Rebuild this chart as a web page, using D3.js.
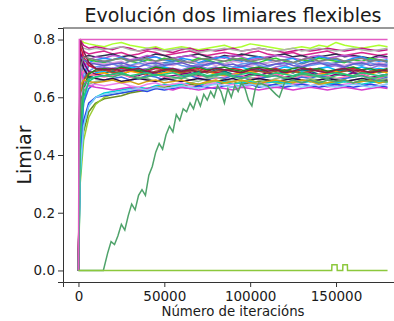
<!DOCTYPE html>
<html>
<head>
<meta charset="utf-8">
<script src="https://cdn.jsdelivr.net/npm/d3@7"></script>
<style>
  html, body { margin: 0; padding: 0; background: #fff; overflow: hidden; }
  svg { display: block; }
  text { font-family: "DejaVu Sans", sans-serif; fill: #1a1a1a; }
</style>
</head>
<body>
<svg id="chart" width="394" height="321"></svg>
<script>
// ---------- DATA ----------
const chartTitle = "Evolución dos limiares flexibles";
const xLabel = "Número de iteracións";
const yLabel = "Limiar";
const xTicks = [0, 50000, 100000, 150000];
const yTicks = [0.0, 0.2, 0.4, 0.6, 0.8];

// common iteration grid for the regular thresholds
const iterations = [0, 1000, 3000, 6000, 10000,
  15000, 20000, 25000, 30000, 35000, 40000, 45000,
  50000, 55000, 60000, 65000, 70000, 75000, 80000,
  85000, 90000, 95000, 100000, 105000, 110000, 115000,
  120000, 125000, 130000, 135000, 140000, 145000, 150000,
  155000, 160000, 165000, 170000, 175000, 180000];

const t01 = [0,.80,.79,.785,.78, .775,.785,.79,.78,.775,.77,.775, .765,.77,.775,.77,.765,.77,.775, .78,.77,.775,.785,.78,.775,.77, .765,.77,.775,.77,.78,.775,.79, .78,.775,.77,.775,.78,.775];
const t02 = [0,.80,.78,.77,.775, .77,.765,.775,.77,.76,.765,.77, .76,.755,.765,.77,.76,.765,.76, .765,.77,.76,.765,.77,.765,.76, .755,.76,.765,.76,.765,.77,.765, .76,.765,.77,.765,.76,.765];
const t03 = [0,.78,.77,.765,.77, .765,.77,.775,.765,.76,.77,.765, .76,.765,.77,.765,.755,.76,.765, .77,.765,.76,.765,.77,.765,.76, .765,.77,.76,.765,.77,.765,.76, .765,.77,.765,.76,.765,.77];
const t04 = [0,.72,.76,.75,.755, .76,.75,.755,.745,.75,.76,.755, .745,.75,.755,.76,.75,.745,.75, .755,.75,.745,.755,.76,.75,.745, .75,.755,.745,.75,.755,.76,.75, .745,.75,.755,.75,.745,.75];
const t05 = [0,.70,.74,.745,.74, .745,.75,.74,.745,.735,.74,.75, .745,.735,.74,.745,.75,.74,.735, .745,.74,.75,.745,.74,.735,.745, .75,.74,.745,.735,.74,.745,.75, .74,.745,.74,.735,.745,.74];
const t06 = [0,.60,.70,.73,.74, .735,.745,.74,.73,.735,.745,.74, .73,.735,.74,.745,.735,.73,.74, .735,.745,.74,.73,.735,.74,.745, .74,.735,.73,.74,.745,.735,.74, .745,.74,.735,.73,.74,.735];
const t07 = [0,.55,.68,.72,.73, .735,.73,.74,.725,.73,.735,.74, .73,.725,.735,.73,.72,.73,.735, .74,.73,.725,.735,.74,.73,.725, .73,.735,.72,.73,.74,.735,.73, .725,.735,.74,.73,.725,.73];
const t08 = [0,.65,.72,.73,.725, .72,.73,.735,.725,.72,.73,.725, .735,.73,.72,.725,.735,.73,.72, .725,.73,.735,.725,.72,.73,.735, .725,.72,.73,.725,.735,.73,.725, .72,.73,.725,.735,.73,.725];
const t09 = [0,.50,.66,.71,.72, .725,.72,.715,.725,.73,.72,.715, .72,.725,.73,.72,.715,.725,.72, .715,.725,.73,.72,.715,.72,.725, .73,.72,.715,.725,.72,.715,.72, .725,.72,.715,.725,.73,.72];
const t10 = [0,.62,.70,.715,.72, .715,.72,.725,.71,.715,.72,.725, .715,.71,.72,.725,.715,.72,.71, .715,.725,.72,.71,.715,.72,.725, .715,.72,.71,.715,.725,.72,.715, .71,.72,.725,.715,.72,.715];
const t11 = [0,.45,.62,.69,.705, .71,.715,.705,.71,.72,.71,.705, .715,.72,.71,.705,.715,.71,.72, .71,.705,.715,.72,.71,.705,.715, .71,.72,.705,.71,.715,.72,.71, .705,.715,.71,.72,.71,.715];
const t12 = [0,.35,.48,.55,.58, .595,.60,.605,.615,.62,.625,.63, .635,.64,.635,.645,.64,.65,.645, .65,.655,.645,.65,.655,.66,.65, .655,.645,.65,.66,.655,.65,.655, .66,.65,.655,.66,.65,.655];
const t13 = [0,.68,.72,.71,.70, .705,.70,.71,.705,.695,.70,.71, .705,.70,.695,.705,.71,.70,.705, .695,.70,.71,.705,.70,.695,.705, .71,.70,.705,.695,.70,.705,.71, .70,.695,.705,.70,.71,.705];
const t14 = [0,.40,.58,.66,.685, .69,.70,.695,.705,.70,.69,.70, .705,.695,.69,.70,.705,.695,.70, .69,.70,.705,.695,.70,.69,.695, .705,.70,.69,.695,.70,.705,.695, .69,.70,.705,.695,.70,.695];
const t15 = [0,.78,.74,.71,.70, .695,.69,.70,.695,.685,.69,.70, .695,.69,.685,.695,.70,.69,.685, .69,.70,.695,.685,.69,.695,.70, .69,.685,.695,.70,.69,.685,.69, .695,.70,.69,.685,.695,.69];
const t16 = [0,.50,.64,.67,.68, .685,.69,.68,.69,.695,.685,.68, .69,.695,.685,.68,.69,.685,.695, .69,.68,.685,.69,.695,.685,.68, .69,.685,.695,.69,.68,.685,.69, .695,.685,.68,.69,.685,.69];
const t17 = [0,.60,.66,.675,.68, .685,.675,.68,.69,.685,.675,.68, .685,.69,.68,.675,.685,.69,.68, .675,.68,.685,.69,.68,.675,.685, .68,.69,.685,.675,.68,.685,.69, .68,.675,.685,.68,.69,.685];
const t18 = [0,.76,.72,.69,.68, .675,.68,.685,.67,.675,.685,.68, .67,.675,.68,.685,.675,.67,.68, .685,.675,.67,.68,.675,.685,.68, .67,.675,.68,.685,.675,.67,.68, .675,.685,.68,.67,.675,.68];
const t19 = [0,.66,.69,.68,.675, .67,.675,.68,.67,.665,.675,.68, .67,.665,.675,.68,.67,.675,.665, .67,.68,.675,.665,.67,.675,.68, .67,.665,.675,.67,.68,.675,.665, .67,.675,.68,.67,.665,.675];
const t20 = [0,.42,.58,.63,.65, .66,.665,.67,.66,.665,.675,.67, .66,.665,.67,.675,.665,.66,.67, .665,.675,.67,.66,.665,.67,.675, .665,.66,.67,.665,.675,.67,.66, .665,.67,.675,.665,.66,.67];
const t21 = [0,.55,.62,.645,.655, .66,.665,.655,.66,.67,.665,.655, .66,.665,.67,.66,.655,.665,.67, .66,.655,.665,.67,.66,.655,.665, .67,.66,.655,.665,.66,.67,.665, .655,.66,.665,.67,.66,.665];
const t22 = [0,.74,.70,.67,.665, .66,.665,.655,.66,.665,.66,.655, .665,.66,.655,.66,.665,.66,.655, .66,.665,.655,.66,.665,.66,.655, .66,.665,.66,.655,.66,.665,.66, .655,.66,.665,.66,.655,.66];
const t23 = [0,.30,.45,.53,.575, .60,.61,.615,.62,.625,.63,.635, .64,.645,.64,.65,.645,.65,.655, .65,.645,.655,.66,.65,.655,.65, .645,.655,.65,.66,.655,.65,.645, .655,.65,.66,.655,.65,.655];
const t24 = [0,.32,.50,.57,.60, .615,.62,.625,.63,.635,.63,.64, .645,.64,.645,.65,.645,.64,.65, .655,.645,.65,.655,.645,.65,.655, .65,.645,.65,.655,.65,.645,.65, .655,.65,.645,.65,.655,.65];
const t25 = [0,.58,.66,.685,.69, .695,.685,.69,.695,.69,.68,.69, .695,.69,.685,.69,.695,.685,.69, .695,.69,.685,.695,.69,.685,.69, .695,.69,.685,.69,.695,.69,.685, .69,.695,.685,.69,.695,.69];
const t26 = [0,.48,.63,.68,.695, .70,.695,.705,.70,.69,.695,.705, .70,.695,.69,.70,.705,.695,.70, .705,.695,.69,.70,.705,.70,.695, .69,.70,.705,.695,.70,.69,.695, .70,.705,.695,.70,.69,.70];
const t27 = [0,.60,.63,.64,.645, .64,.645,.65,.64,.635,.645,.65, .64,.645,.65,.64,.635,.645,.65, .64,.645,.635,.64,.65,.645,.64, .635,.645,.65,.64,.645,.635,.64, .645,.65,.64,.645,.64,.645];
const t28 = [0,.38,.52,.58,.60, .605,.61,.615,.62,.625,.62,.63, .625,.63,.635,.63,.64,.635,.63, .64,.635,.64,.645,.635,.64,.645, .635,.64,.645,.64,.635,.64,.645, .64,.635,.64,.645,.64,.635];
const t29 = [0,.70,.66,.64,.635, .63,.625,.63,.635,.625,.63,.635, .63,.625,.635,.63,.625,.63,.635, .63,.625,.635,.63,.625,.63,.635, .63,.625,.63,.635,.63,.625,.63, .635,.63,.625,.63,.635,.63];
const t30 = [0,.34,.50,.57,.60, .61,.615,.62,.625,.63,.625,.635, .63,.635,.64,.635,.63,.64,.645, .64,.635,.64,.645,.64,.635,.64, .645,.64,.635,.64,.645,.64,.635, .64,.645,.64,.635,.64,.645];
const t31 = [0,.64,.66,.655,.65, .655,.66,.65,.655,.645,.655,.66, .65,.655,.66,.65,.645,.655,.66, .65,.655,.66,.65,.645,.655,.66, .655,.65,.66,.655,.645,.65,.655, .66,.65,.655,.66,.65,.655];
const t32 = [0,.52,.64,.665,.67, .675,.67,.68,.675,.665,.67,.68, .675,.67,.665,.675,.68,.67,.675, .68,.67,.665,.675,.68,.67,.675, .665,.67,.68,.675,.67,.665,.675, .68,.67,.675,.665,.67,.675];
const t33 = [0,.74,.73,.72,.715, .71,.715,.72,.71,.705,.715,.72, .71,.715,.72,.71,.705,.715,.72, .71,.715,.705,.715,.72,.71,.715, .72,.71,.705,.715,.72,.71,.715, .705,.715,.72,.71,.715,.71];
const t34 = [0,.80,.76,.72,.70, .695,.70,.69,.695,.70,.69,.685, .695,.70,.69,.695,.685,.69,.70, .695,.69,.685,.695,.70,.69,.695, .685,.69,.70,.695,.69,.685,.695, .70,.69,.695,.685,.69,.695];
const t35 = [0,.70,.74,.735,.73, .725,.73,.735,.725,.73,.735,.725, .73,.735,.725,.72,.73,.735,.73, .725,.735,.73,.725,.73,.735,.725, .73,.72,.73,.735,.725,.73,.735, .725,.73,.735,.725,.73,.725];
const t36 = [0,.45,.60,.655,.67, .675,.68,.685,.675,.68,.685,.675, .68,.685,.675,.68,.685,.675,.68, .685,.675,.68,.685,.68,.675,.685, .68,.675,.685,.68,.675,.68,.685, .68,.675,.685,.68,.675,.68];

const regularSeries = [t01,t02,t03,t04,t05,t06,t07,t08,t09,t10,t11,t12,t13,t14,t15,t16,t17,t18,
                       t19,t20,t21,t22,t23,t24,t25,t26,t27,t28,t29,t30,t31,t32,t33,t34,t35,t36];

// threshold that learns slowly
const slowIter = [0,14500,17000,19000,21000,23000,25000,27000,29000,31000,33000,35000,37000,39000,
  41000,43000,45000,47000,49000,51000,53000,55000,57000,59000,61000,63000,65000,67000,69000,71000,
  73000,75000,77000,79000,81000,83000,85000,87000,89000,91000,93000,95000,97000,99000,101000,103000,
  105000,110000,115000,117000,120000,125000,130000,135000,140000,145000,150000,155000,160000,165000,
  170000,175000,180000];
const slowVals = [0,0,.06,.10,.09,.12,.16,.14,.19,.23,.21,.26,.28,.26,
  .33,.36,.41,.44,.42,.47,.50,.48,.54,.52,.56,.55,.58,.56,.60,.57,
  .61,.59,.62,.60,.64,.62,.58,.63,.60,.64,.62,.65,.63,.59,.57,.63,
  .65,.64,.61,.60,.65,.66,.65,.66,.65,.66,.655,.66,.65,.66,
  .655,.66,.655];

// threshold saturated at the maximum
const topIter = [0, 500, 180000];
const topVals = [0, .8, .8];

// threshold that stays at zero
const zeroIter = [0, 147500, 147600, 150600, 150700, 153900, 154000, 156600, 156700, 180000];
const zeroVals = [0, 0, .02, .02, 0, 0, .02, .02, 0, 0];

// ---------- STYLES ----------
const lineColors = ["#adff2f","#c71585","#b0b0b0","#d6278e","#2f2f4f","#ba55d3","#1e90ff","#32cd32",
  "#4682b4","#dda0dd","#6495ed","#6b8e23","#9370db","#00bfff","#dc143c","#008080","#ffa500","#800080",
  "#ff69b4","#4169e1","#8fbc8f","#2a0a4a","#9acd32","#00ced1","#a0522d","#228b22","#ee82ee","#2848e8",
  "#d63ccf","#87cefa","#d4a017","#3cb371","#6a5acd","#8b1a4a","#808080","#1fc87a"];
const slowColor = "#4fa36b";
const topColor = "#e35cc4";
const zeroColor = "#8cc83c";

// ---------- CHART ----------
const svg = d3.select("#chart");
const mLeft = 63, mRight = 403, mTop = 28, mBottom = 282;

const x = d3.scaleLinear().domain([-9000, 189000]).range([mLeft, mRight]);
const y = d3.scaleLinear().domain([-0.04, 0.84]).range([mBottom, mTop]);

svg.append("clipPath").attr("id", "clip")
  .append("rect").attr("x", mLeft).attr("y", mTop).attr("width", mRight - mLeft).attr("height", mBottom - mTop);

const plot = svg.append("g").attr("clip-path", "url(#clip)");

const line = d3.line().x(d => x(d[0])).y(d => y(d[1]));

regularSeries.forEach((vals, i) => {
  plot.append("path")
    .datum(iterations.map((it, j) => [it, vals[j]]))
    .attr("d", line)
    .attr("fill", "none")
    .attr("stroke", lineColors[i])
    .attr("stroke-width", 1.5)
    .attr("stroke-linejoin", "round");
});

plot.append("path").datum(slowIter.map((it, j) => [it, slowVals[j]]))
  .attr("d", line).attr("fill", "none").attr("stroke", slowColor).attr("stroke-width", 1.5);
plot.append("path").datum(topIter.map((it, j) => [it, topVals[j]]))
  .attr("d", line).attr("fill", "none").attr("stroke", topColor).attr("stroke-width", 1.5);
plot.append("path").datum(zeroIter.map((it, j) => [it, zeroVals[j]]))
  .attr("d", line).attr("fill", "none").attr("stroke", zeroColor).attr("stroke-width", 1.5);

// axes
const xAxis = d3.axisBottom(x).tickValues(xTicks).tickFormat(d3.format("d")).tickSizeOuter(0).tickSize(5).tickPadding(4);
const yAxis = d3.axisLeft(y).tickValues(yTicks).tickFormat(d3.format(".1f")).tickSizeOuter(0).tickSize(5).tickPadding(3);

const gx = svg.append("g").attr("transform", `translate(0,${mBottom})`).call(xAxis);
const gy = svg.append("g").attr("transform", `translate(${mLeft},0)`).call(yAxis);
[gx, gy].forEach(g => {
  g.select(".domain").attr("stroke", "#333").attr("stroke-width", 1);
  g.selectAll(".tick line").attr("stroke", "#333").attr("stroke-width", 1);
  g.selectAll(".tick text").style("font-family", "DejaVu Sans").style("font-size", "13.5px").attr("fill", "#1a1a1a");
});
// top spine (the right spine lies beyond the picture's edge)
svg.append("line").attr("x1", mLeft).attr("x2", mRight).attr("y1", mTop).attr("y2", mTop)
  .attr("stroke", "#333").attr("stroke-width", 1);

// titles
svg.append("text").attr("x", (mLeft + mRight) / 2).attr("y", 22).attr("text-anchor", "middle")
  .style("font-size", "19px").text(chartTitle);
svg.append("text").attr("x", (mLeft + mRight) / 2).attr("y", 316).attr("text-anchor", "middle")
  .style("font-size", "13.3px").text(xLabel);
svg.append("text").attr("transform", `translate(31,${(mTop + mBottom) / 2}) rotate(-90)`)
  .attr("text-anchor", "middle").style("font-size", "19px").text(yLabel);
</script>
</body>
</html>
